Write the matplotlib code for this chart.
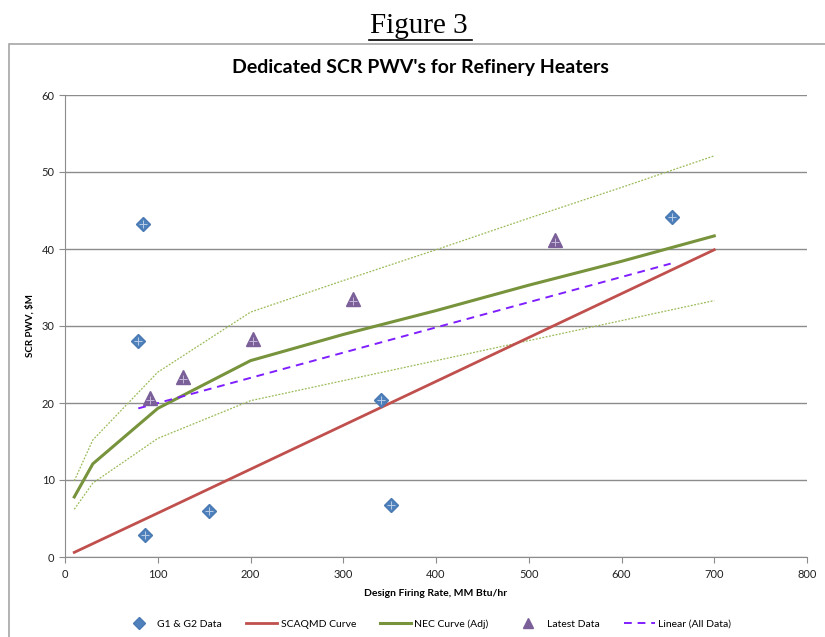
import matplotlib
matplotlib.use("Agg")
import matplotlib.pyplot as plt
from matplotlib.lines import Line2D
from matplotlib.patches import Rectangle

# data
g1g2_x = [79, 84, 86, 155, 341, 351, 654]
g1g2_y = [28.1, 43.2, 2.9, 6.0, 20.4, 6.8, 44.1]

latest_x = [92, 127, 203, 310, 528]
latest_y = [20.7, 23.4, 28.3, 33.5, 41.2]

scaqmd_x = [10, 100, 200, 300, 400, 500, 600, 700]
scaqmd_y = [0.6, 5.7, 11.4, 17.1, 22.8, 28.5, 34.2, 39.9]

nec_x = [10, 30, 100, 200, 300, 400, 500, 600, 700]
nec_y = [7.8, 12.1, 19.3, 25.5, 28.9, 32.0, 35.3, 38.4, 41.7]

nec_hi_y = [9.9, 15.2, 24.0, 31.8, 35.9, 39.9, 44.0, 48.0, 52.1]
nec_lo_y = [6.2, 9.6, 15.4, 20.3, 22.9, 25.5, 28.1, 30.7, 33.3]

trend_x = [79, 653]
trend_y = [19.3, 38.1]

xticks = [0, 100, 200, 300, 400, 500, 600, 700, 800]
yticks = [0, 10, 20, 30, 40, 50, 60]

plt.rcParams['font.family'] = ['Lato', 'DejaVu Sans']

fig = plt.figure(figsize=(8.25, 6.37), dpi=100)

# chart frame
fig.add_artist(Rectangle((9 / 825, -0.1), 1.0, 1 - 44 / 637 + 0.1, transform=fig.transFigure,
                         fill=False, edgecolor='#a6a6a6', linewidth=1.2))

fig.text(0.508, 1 - 26 / 637, 'Figure 3', ha='center', va='center', fontsize=21,
         family='Liberation Serif')
fig.add_artist(Line2D([369 / 825, 472 / 825], [1 - 40 / 637, 1 - 40 / 637],
                      transform=fig.transFigure, color='black', linewidth=1.2))

fig.text(0.51, 1 - 68 / 637, "Dedicated SCR PWV's for Refinery Heaters", ha='center', va='center',
         fontsize=14, fontweight='bold')

ax = fig.add_axes([65 / 825, 80 / 637, 742 / 825, 462 / 637])

ax.plot(nec_x, nec_hi_y, color='#9bbb59', linewidth=0.9, linestyle=(0, (1.5, 1.2)))
ax.plot(nec_x, nec_lo_y, color='#9bbb59', linewidth=0.9, linestyle=(0, (1.5, 1.2)))
ax.plot(scaqmd_x, scaqmd_y, color='#c0504d', linewidth=2.0, label='SCAQMD Curve')
ax.plot(nec_x, nec_y, color='#77933c', linewidth=2.2, label='NEC Curve (Adj)')
ax.plot(trend_x, trend_y, color='#7f1fff', linewidth=1.4, linestyle=(0, (4, 3)),
        label='Linear (All Data)')

ax.plot(g1g2_x, g1g2_y, linestyle='none', marker='D', markersize=7.5, color='#4f81bd',
        markeredgecolor='#4a7ab3', label='G1 & G2 Data', zorder=5)
ax.plot(g1g2_x, g1g2_y, linestyle='none', marker='+', markersize=6, color='#b9cde6',
        markeredgewidth=0.7, zorder=6)
ax.plot(latest_x, latest_y, linestyle='none', marker='^', markersize=9.5, color='#7a5f99',
        label='Latest Data', zorder=5)
ax.plot(latest_x, [v - 0.3 for v in latest_y], linestyle='none', marker='+', markersize=6,
        color='#c6b8da', markeredgewidth=0.7, zorder=6)

ax.set_xlim(0, 800)
ax.set_ylim(0, 60)
ax.set_xticks(xticks)
ax.set_yticks(yticks)
ax.yaxis.grid(True, color='#8c8c8c', linewidth=1.0)
ax.set_axisbelow(True)
for s in ['top', 'right']:
    ax.spines[s].set_visible(False)
for s in ['left', 'bottom']:
    ax.spines[s].set_color('#8c8c8c')
ax.tick_params(axis='both', direction='out', length=4, color='#8c8c8c', labelsize=8,
               labelcolor='#222222')
ax.tick_params(axis='x', pad=5)

ax.set_xlabel('Design Firing Rate, MM Btu/hr', fontsize=7.5, fontweight='bold', labelpad=6)
ax.set_ylabel('SCR PWV, $M', fontsize=7, fontweight='bold', labelpad=5)

h, l = ax.get_legend_handles_labels()
order = ['G1 & G2 Data', 'SCAQMD Curve', 'NEC Curve (Adj)', 'Latest Data', 'Linear (All Data)']
hh = [h[l.index(o)] for o in order]
fig.legend(hh, order, loc='center', bbox_to_anchor=(427 / 825, 1 - 624 / 637), ncol=5,
           frameon=False, fontsize=7.5, handlelength=3, handletextpad=0.3, columnspacing=2.3,
           markerscale=0.8)

fig.savefig('out.png', dpi=100)
